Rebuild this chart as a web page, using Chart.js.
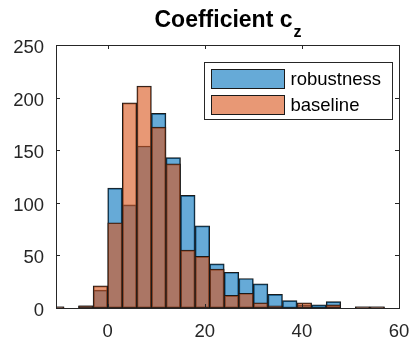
<!DOCTYPE html>
<html>
<head>
<meta charset="utf-8">
<script src="https://cdn.jsdelivr.net/npm/chart.js@4.4.0/dist/chart.umd.min.js"></script>
<style>
html, body { margin: 0; padding: 0; background: #fff; }
</style>
</head>
<body>
<canvas id="myChart" width="413" height="342"></canvas>
<script>
// histogram bins (width 3) and counts
const binCenters = [-10.5, -7.5, -4.5, -1.5, 1.5, 4.5, 7.5, 10.5, 13.5, 16.5, 19.5, 22.5,
    25.5, 28.5, 31.5, 34.5, 37.5, 40.5, 43.5, 46.5, 49.5, 52.5, 55.5];
const robustness = [1, 0, 2, 17, 114, 98, 154, 185, 143, 107, 78, 42,
    34, 28, 23, 13, 7, 3, 3, 6, 0, 1, 1];
const baseline = [1, 0, 2, 21, 81, 195, 211, 172, 137, 55, 49, 37,
    12, 14, 5, 2, 0, 5, 0, 3, 0, 1, 1];
const seriesNames = ['robustness', 'baseline'];
const xTicks = [0, 20, 40, 60];
const yTicks = [0, 50, 100, 150, 200, 250];
const titleMain = 'Coefficient c';
const titleSub = 'z';

const FONT = "'Liberation Sans', Arial, Helvetica, sans-serif";
const AXIS = '#262626';
Chart.defaults.font.family = FONT;
Chart.defaults.color = AXIS;

function points(values) {
    return binCenters.map((c, i) => ({ x: c, y: values[i] }));
}

// white background, MATLAB-like box with inward ticks, title and legend
const matlabLook = {
    id: 'matlabLook',
    beforeDraw(chart) {
        const c = chart.ctx;
        c.save();
        c.fillStyle = '#fff';
        c.fillRect(0, 0, chart.width, chart.height);
        c.restore();
    },
    afterDraw(chart) {
        const c = chart.ctx;
        const a = chart.chartArea;
        const xs = chart.scales.x, ys = chart.scales.y;
        const tl = 4;
        c.save();
        c.strokeStyle = AXIS;
        c.lineWidth = 1;
        c.beginPath();
        xs.ticks.forEach(t => {
            const px = Math.round(xs.getPixelForValue(t.value)) + 0.5;
            c.moveTo(px, a.bottom); c.lineTo(px, a.bottom - tl);
            c.moveTo(px, a.top); c.lineTo(px, a.top + tl);
        });
        ys.ticks.forEach(t => {
            const py = Math.round(ys.getPixelForValue(t.value)) + 0.5;
            c.moveTo(a.left, py); c.lineTo(a.left + tl, py);
            c.moveTo(a.right, py); c.lineTo(a.right - tl, py);
        });
        c.stroke();
        c.strokeRect(Math.round(a.left) + 0.5, Math.round(a.top) + 0.5,
            Math.round(a.right - a.left), Math.round(a.bottom - a.top));

        // title with subscript
        c.fillStyle = '#000';
        c.textBaseline = 'alphabetic';
        c.font = 'bold 23px ' + FONT;
        const w1 = c.measureText(titleMain).width;
        c.font = 'bold 16px ' + FONT;
        const w2 = c.measureText(titleSub).width;
        const x0 = (a.left + a.right) / 2 - (w1 + w2) / 2;
        c.font = 'bold 23px ' + FONT;
        c.fillText(titleMain, x0, 27);
        c.font = 'bold 16px ' + FONT;
        c.fillText(titleSub, x0 + w1 + 1, 37);

        // legend box
        const lx = 204.5, ly = 62.5, lw = 188, lh = 57;
        c.fillStyle = '#fff';
        c.fillRect(lx, ly, lw, lh);
        c.strokeStyle = AXIS;
        c.strokeRect(lx, ly, lw, lh);
        c.font = '18.5px ' + FONT;
        c.textBaseline = 'middle';
        chart.data.datasets.forEach((ds, i) => {
            const sy = ly + 7 + i * 26;
            c.fillStyle = '#fff';
            c.fillRect(lx + 7, sy, 73, 19);
            c.fillStyle = ds.backgroundColor;
            c.fillRect(lx + 7, sy, 73, 19);
            c.strokeStyle = '#1a1a1a';
            c.strokeRect(lx + 7, sy, 73, 19);
            c.fillStyle = '#000';
            c.fillText(ds.label, lx + 86, sy + 10);
        });
        c.restore();
    }
};

const ctx = document.getElementById('myChart');
const myChart = new Chart(ctx, {
    type: 'bar',
    data: {
        datasets: [{
            label: seriesNames[0],
            data: points(robustness),
            backgroundColor: 'rgba(0, 114, 189, 0.6)',
            borderColor: '#1a1a1a',
            borderWidth: 1,
            order: 1
        }, {
            label: seriesNames[1],
            data: points(baseline),
            backgroundColor: 'rgba(217, 83, 25, 0.6)',
            borderColor: '#1a1a1a',
            borderWidth: 1,
            order: 0
        }]
    },
    options: {
        responsive: false,
        animation: false,
        events: [],
        grouped: false,
        barPercentage: 1,
        categoryPercentage: 1,
        borderSkipped: false,
        clip: 0,
        layout: { padding: { top: 45, right: 14, bottom: 0, left: 0 } },
        plugins: {
            legend: { display: false },
            title: { display: false },
            tooltip: { enabled: false }
        },
        scales: {
            x: {
                type: 'linear',
                offset: false,
                min: -10.65,
                max: 60,
                afterBuildTicks: s => { s.ticks = xTicks.map(v => ({ value: v })); },
                afterFit: s => { s.height = 34; s.paddingLeft = 0; s.paddingRight = 0; },
                grid: { display: false, drawTicks: false, offset: false },
                border: { display: false },
                ticks: { padding: 13, font: { size: 18.5 }, color: AXIS, maxRotation: 0 }
            },
            y: {
                min: 0,
                max: 250,
                afterBuildTicks: s => { s.ticks = yTicks.map(v => ({ value: v })); },
                afterFit: s => { s.width = 56; s.paddingTop = 0; s.paddingBottom = 0; },
                grid: { display: false, drawTicks: false },
                border: { display: false },
                ticks: { padding: 12, labelOffset: 3, font: { size: 18.5 }, color: AXIS }
            }
        }
    },
    plugins: [matlabLook]
});
</script>
</body>
</html>
